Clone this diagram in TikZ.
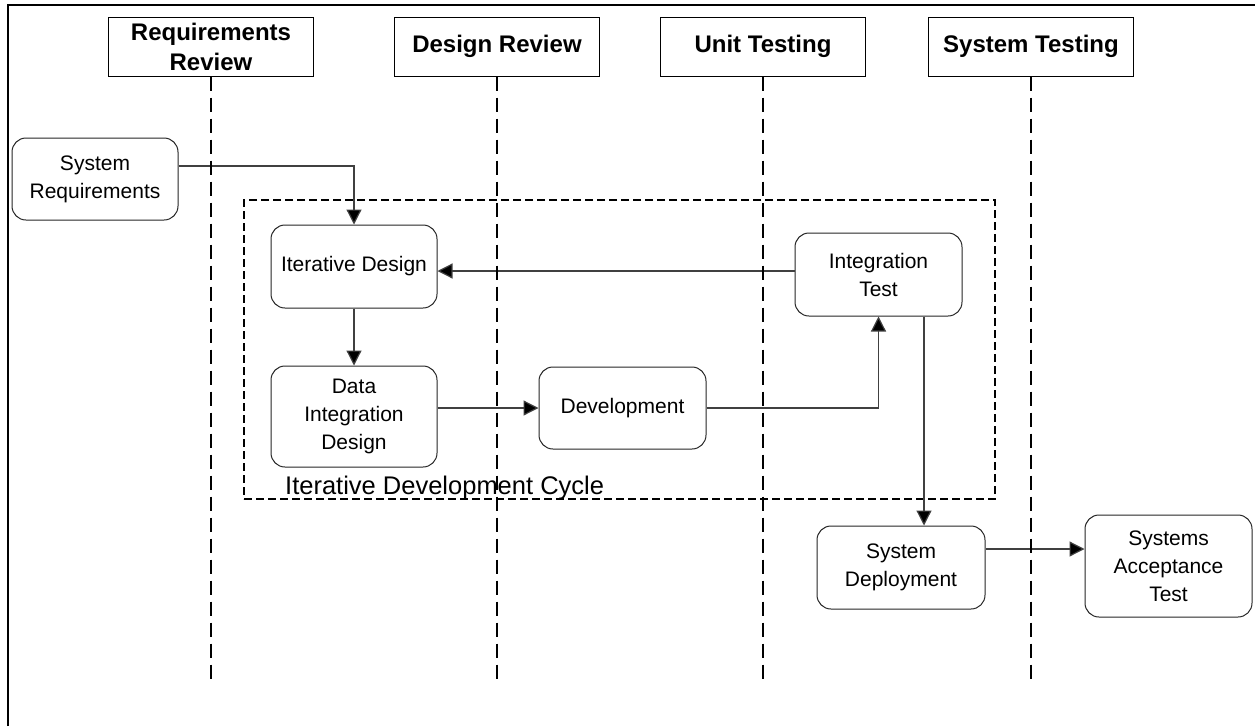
\documentclass[tikz,border=0pt]{standalone}
\usepackage{fontspec}
\setmainfont{Liberation Sans}
\usetikzlibrary{arrows.meta}
\begin{document}
\begin{tikzpicture}[x=1pt,y=-1pt,
  lane/.style={draw=black, line width=1pt, minimum width=205pt, minimum height=59pt,
    inner sep=0pt, align=center, font=\fontsize{24}{30}\selectfont\bfseries},
  lifeline/.style={line width=2.4pt, dash pattern=on 14pt off 7pt},
  task/.style={draw=black!85, line width=1pt, rounded corners=14pt, inner sep=0pt,
    align=center, font=\fontsize{21}{28}\selectfont},
  cyclebox/.style={draw=black, line width=1.5pt, dash pattern=on 8pt off 4pt, inner sep=0pt},
  conn/.style={draw=black!75, line width=1.2pt},
  arr/.style={conn, -{Triangle[length=15pt,width=15pt,fill=black]}}]

% page and frame
\useasboundingbox (0,0) rectangle (1255,726);
\fill[white] (0,0) rectangle (1255,726);
\draw[line width=2pt] (8,726) -- (8,5) -- (1255,5);

% iteration frame
\node[cyclebox, minimum width=751pt, minimum height=299pt] (cyc) at (619.5,349.5) {};
\node[anchor=base west, inner sep=0pt, font=\fontsize{25.5}{30}\selectfont] (cyclbl) at (285,494) {Iterative Development Cycle};

% phase headers
\node[lane] (rr) at (211,46.5) {Requirements\\Review};
\node[lane] (dr) at (497,46.5) {Design Review};
\node[lane] (ut) at (763,46.5) {Unit Testing};
\node[lane] (st) at (1031,46.5) {System Testing};

% activities
\node[task, minimum width=166pt, minimum height=82pt] (sysreq) at (95,179) {System\\Requirements};
\node[task, minimum width=166pt, minimum height=83pt] (iterdes) at (354,266.5) {Iterative Design};
\node[task, minimum width=166pt, minimum height=101pt] (did) at (354,416.5) {Data\\Integration\\Design};
\node[task, minimum width=167pt, minimum height=82pt] (dev) at (622.5,408) {Development};
\node[task, minimum width=167pt, minimum height=83pt] (inttest) at (878.5,274.5) {Integration\\Test};
\node[task, minimum width=168pt, minimum height=83pt] (sysdep) at (901,567.5) {System\\Deployment};
\node[task, minimum width=167pt, minimum height=102pt] (sat) at (1168.5,566) {Systems\\Acceptance\\Test};

% flow
\draw[arr] ([yshift=13pt]sysreq.east) -| (iterdes.north);
\draw[arr] (inttest.west |- 0,271) -- (iterdes.east |- 0,271);
\draw[arr] (iterdes.south) -- (did.north);
\draw[arr] (did.east |- dev.west) -- (dev.west);
\draw[arr] (dev.east) -| (inttest.south);
\draw[arr] (inttest.south -| 924,0) -- (sysdep.north -| 924,0);
\draw[arr] (sysdep.east |- 0,549) -- (sat.west |- 0,549);

% lifelines
\draw[lifeline] (rr.south) -- (rr.south |- 0,683);
\draw[lifeline] (dr.south) -- (dr.south |- 0,683);
\draw[lifeline] (ut.south) -- (ut.south |- 0,683);
\draw[lifeline] (st.south) -- (st.south |- 0,683);
\end{tikzpicture}
\end{document}
